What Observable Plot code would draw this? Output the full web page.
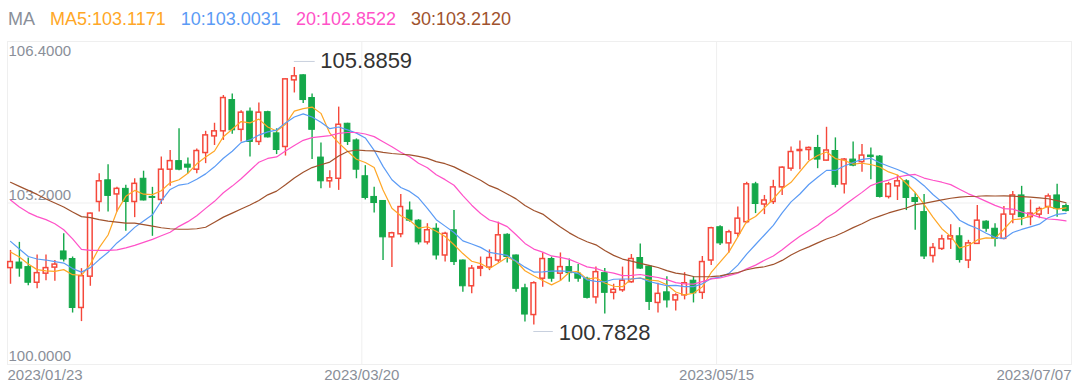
<!DOCTYPE html>
<html><head><meta charset="utf-8">
<script src="https://cdn.jsdelivr.net/npm/d3@7"></script>
<script src="https://cdn.jsdelivr.net/npm/@observablehq/plot@0.6"></script>
<style>
body{margin:0;background:#fff;font-family:"Liberation Sans",Arial,Helvetica,sans-serif;}
#legend{height:38px;line-height:38px;font-size:18px;padding-left:8px;white-space:nowrap;}
#legend span{margin-right:15px;}
</style></head><body>
<div id="legend"></div>
<div id="chart"></div>
<script>
const open=[101.91,102.02,101.93,101.62,101.80,101.92,102.24,102.09,101.12,101.74,
103.22,103.65,103.37,103.48,103.22,103.68,103.32,103.26,103.86,104.03,
103.96,103.86,104.19,104.52,104.62,105.24,104.65,105.01,104.41,105.00,
104.58,104.31,105.63,105.73,105.28,104.10,103.63,103.68,104.77,104.44,
103.73,103.32,103.24,102.52,102.58,103.05,102.85,102.42,102.69,102.16,
102.66,102.06,101.55,101.90,101.92,102.06,102.57,102.16,101.51,100.98,
101.70,102.09,101.80,101.93,101.80,101.70,101.33,101.81,101.42,101.47,
101.63,102.11,101.94,101.22,101.43,101.27,101.37,101.66,101.42,102.06,
102.72,102.40,102.59,102.82,103.57,103.17,103.22,103.51,103.88,104.23,
104.25,104.29,104.04,104.23,103.57,104.06,104.01,104.14,104.12,103.32,
103.53,103.63,103.30,103.02,102.15,102.29,102.48,102.54,102.06,102.39,
102.83,102.69,102.49,102.97,103.35,102.92,102.97,103.12,103.35,103.14];
const high=[102.26,102.42,102.11,102.17,102.17,102.06,102.59,102.13,101.90,103.00,
103.78,103.96,103.51,103.55,103.68,103.83,103.51,104.11,104.24,104.67,
104.09,104.27,104.62,104.78,105.33,105.36,105.03,105.08,105.18,105.02,
104.67,105.66,105.8859,105.74,105.36,104.39,103.84,105.10,104.78,104.47,
103.94,103.51,103.25,102.62,103.37,103.22,102.87,102.79,102.79,102.62,
103.05,102.07,101.96,102.13,102.27,102.82,102.59,102.17,101.59,101.64,
102.21,102.13,102.21,102.09,101.98,101.73,101.93,101.90,101.59,101.93,
102.18,102.39,101.96,101.61,101.74,101.40,101.82,101.74,102.14,102.72,
102.75,102.66,103.12,103.61,103.61,103.35,103.65,103.92,104.31,104.43,
104.31,104.54,104.70,104.49,104.08,104.41,104.36,104.29,104.14,103.61,
103.75,103.66,103.40,103.37,102.40,102.56,102.77,102.71,102.46,103.15,
102.85,102.79,103.13,103.43,103.53,103.26,103.12,103.38,103.57,103.18];
const low=[101.59,101.73,101.56,101.50,101.66,101.65,102.03,101.02,100.85,101.55,
103.02,103.02,103.02,102.64,102.91,103.24,102.54,103.17,103.53,103.84,
103.78,103.78,103.98,104.34,104.44,104.56,104.41,104.11,104.34,104.49,
104.16,104.13,105.38,105.17,104.06,103.48,103.49,103.45,104.34,103.68,
103.26,103.00,102.06,101.92,102.51,102.82,102.37,102.37,102.07,102.03,
101.96,101.43,101.40,101.74,101.86,102.01,102.01,101.43,100.84,100.7828,
101.53,101.63,101.65,101.63,101.63,101.30,101.20,101.00,101.28,101.43,
101.61,101.88,101.07,101.02,101.12,101.06,101.28,101.22,101.29,101.96,
102.36,102.21,102.52,102.79,102.99,102.97,103.17,103.35,103.83,103.86,
104.04,103.88,104.03,103.50,103.38,103.92,103.81,103.66,103.30,103.28,
103.25,103.05,102.66,102.08,102.01,102.26,102.28,102.01,101.90,102.38,
102.62,102.33,102.47,102.79,102.75,102.75,102.89,102.97,102.92,103.02];
const close=[102.03,101.90,101.62,101.81,101.91,101.98,102.08,101.12,101.75,102.99,
103.63,103.34,103.48,103.22,103.58,103.25,103.30,103.86,104.03,103.86,
103.90,104.23,104.54,104.62,105.28,104.64,104.99,104.41,104.99,104.50,
104.25,105.65,105.71,105.24,104.65,103.63,103.69,104.75,104.41,103.86,
103.30,103.20,102.52,102.60,103.12,102.85,102.42,102.66,102.16,102.59,
102.03,101.55,101.90,101.93,102.11,102.56,102.13,101.50,100.99,101.61,
102.09,101.70,101.93,101.81,101.70,101.32,101.83,101.42,101.48,101.66,
102.09,101.90,101.24,101.40,101.27,101.37,101.61,101.41,102.03,102.70,
102.40,102.62,102.89,103.57,103.18,103.25,103.51,103.90,104.21,104.25,
104.29,104.06,104.24,103.56,104.06,103.94,104.14,104.11,103.32,103.57,
103.63,103.30,103.22,102.14,102.31,102.48,102.54,102.07,102.40,102.85,
102.69,102.49,102.97,103.35,102.92,102.99,103.08,103.33,103.08,103.04];

// moving-average values before each window is full
const ma5Early=[102.23,102.13,101.99,101.88];
const ma10Early=[102.44,102.29,102.14,102.09,102.07,102.04,102.01,101.90,101.83];
const ma20Early=[103.26,103.12,103.01,102.93,102.87,102.79,102.67,102.49,102.28,102.26,
102.26,102.26,102.27,102.31,102.36,102.42,102.48,102.55,102.62];
const ma30Early=[103.61,103.53,103.45,103.37,103.28,103.20,103.12,103.02,102.93,102.91,
102.87,102.84,102.82,102.80,102.80,102.77,102.74,102.71,102.69,102.68,
102.68,102.69,102.72,102.82,102.92,103.00,103.08,103.16,103.25];

const legendLabels=["MA","MA5:103.1171","10:103.0031","20:102.8522","30:103.2120"];
const xTickIndex=[0,40,80,119];
const xTickLabels=["2023/01/23","2023/03/20","2023/05/15","2023/07/07"];
const yTicks=[106.4,103.2,100.0];

const RED="#f5483b", GREEN="#14a84a";
const maColors=["#ffa726","#5b9bf5","#ff52c8","#a0522d"];
const legendColors=["#8a8f99",...maColors];

document.getElementById("legend").innerHTML = legendLabels.map((t,k)=>`<span style="color:${legendColors[k]}">${t}</span>`).join("");

const data = close.map((c,i)=>({i, o:open[i], h:high[i], l:low[i], c}));
const up = data.filter(d=>d.c>=d.o), down = data.filter(d=>d.c<d.o);
function ma(n, early){ return close.map((c,i)=> i < n-1 ? early[i] : d3.mean(close.slice(i-n+1,i+1))); }
const maLines=[ma(5,ma5Early),ma(10,ma10Early),ma(20,ma20Early),ma(30,ma30Early)];

const maxIdx = d3.maxIndex(high), minIdx = d3.minIndex(low);
const W=0.32;
const AX="#8a8f99", GRID="#efefef";

const chart = Plot.plot({
  width:1080, height:354, marginTop:3, marginBottom:28, marginLeft:7, marginRight:9,
  style:{fontFamily:'"Liberation Sans",Arial,Helvetica,sans-serif', background:"#fff"},
  x:{type:"linear", domain:[-0.34,119.62], axis:null},
  y:{domain:[100,106.4], axis:null},
  marks:[
    Plot.frame({stroke:GRID}),
    Plot.ruleY(yTicks.slice(1,2), {stroke:GRID}),
    Plot.ruleX(xTickIndex.slice(1,3), {x:d=>d, dx:-3.5, stroke:GRID}),
    Plot.text(yTicks.slice(0,1), {y:d=>d, text:d=>d.toFixed(4), frameAnchor:"left", textAnchor:"start", dx:1, dy:10, fontSize:15, fill:AX}),
    Plot.text(yTicks.slice(1), {y:d=>d, text:d=>d.toFixed(4), frameAnchor:"left", textAnchor:"start", dx:1, dy:-8, fontSize:15, fill:AX}),
    Plot.text([xTickLabels[0]], {frameAnchor:"bottom-left", textAnchor:"start", dy:15, fontSize:15, fill:AX}),
    Plot.text(xTickIndex.slice(1,3), {x:d=>d, text:(d,k)=>xTickLabels[k+1], frameAnchor:"bottom", dx:-3.5, dy:15, fontSize:15, fill:AX}),
    Plot.text([xTickLabels[3]], {frameAnchor:"bottom-right", textAnchor:"end", dy:15, fontSize:15, fill:AX}),
    // wicks
    Plot.ruleX(down, {x:"i", y1:"l", y2:"h", stroke:GREEN, strokeWidth:1.4}),
    Plot.ruleX(up, {x:"i", y1:"l", y2:"h", stroke:RED, strokeWidth:1.4}),
    // bodies
    Plot.rect(down, {x1:d=>d.i-W, x2:d=>d.i+W, y1:"o", y2:"c", fill:GREEN, stroke:GREEN, strokeWidth:1}),
    Plot.rect(up, {x1:d=>d.i-W+0.06, x2:d=>d.i+W-0.06, y1:"o", y2:"c", fill:"#fff", stroke:RED, strokeWidth:1.5}),
    // moving averages
    ...maLines.map((vals,k)=>Plot.line(vals, {x:(d,i)=>i, y:d=>d, stroke:maColors[k], strokeWidth:1.2})),
    // extreme annotations
    Plot.ruleY([high[maxIdx]], {y:d=>d, x1:maxIdx, x2:maxIdx+2.35, dy:-6, stroke:"#c8d0de"}),
    Plot.text([high[maxIdx]], {x:maxIdx, y:d=>d, text:d=>d.toFixed(4), dx:26, dy:-6, textAnchor:"start", fontSize:22, fill:"#333"}),
    Plot.ruleY([low[minIdx]], {y:d=>d, x1:minIdx, x2:minIdx+2.2, dy:6.5, stroke:"#c8d0de"}),
    Plot.text([low[minIdx]], {x:minIdx, y:d=>d, text:d=>d.toFixed(4), dx:25, dy:7.5, textAnchor:"start", fontSize:22, fill:"#333"})
  ]
});
document.getElementById("chart").appendChild(chart);
</script>
</body></html>
